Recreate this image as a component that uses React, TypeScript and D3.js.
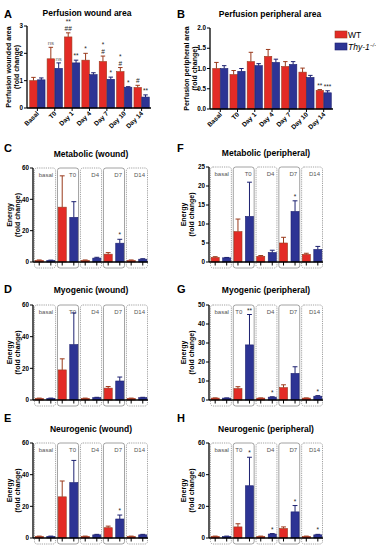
import React from 'react';
import * as d3 from 'd3';

// perfusion panels (A, B)
const periods = ['Basal', 'T0', 'Day 1', 'Day 4', 'Day 7', 'Day 10', 'Day 14'];
const woundWT = [1.0, 1.8, 2.6, 1.75, 1.7, 1.33, 0.75];
const woundWTErr = [0.12, 0.42, 0.15, 0.25, 0.2, 0.15, 0.08];
const woundThy = [1.03, 1.45, 1.65, 1.22, 1.05, 0.76, 0.4];
const woundThyErr = [0.07, 0.2, 0.1, 0.07, 0.08, 0.02, 0.08];
const woundWTMarks = [[], ['ns'], ['##', '**'], ['*'], ['#', '*'], ['#', '*'], ['#']];
const woundThyMarks = [[], ['ns'], ['**'], [], ['*'], ['*'], ['**']];

const periWT = [1.0, 0.85, 1.17, 1.3, 1.05, 0.91, 0.46];
const periWTErr = [0.15, 0.1, 0.23, 0.17, 0.12, 0.1, 0.02];
const periThy = [1.0, 0.93, 1.07, 1.15, 1.1, 0.78, 0.4];
const periThyErr = [0.07, 0.07, 0.05, 0.08, 0.07, 0.05, 0.05];
const periWTMarks = [[], [], [], [], [], [], ['**']];
const periThyMarks = [[], [], [], [], [], [], ['***']];

// energy panels (C-H)
const stages = ['basal', 'T0', 'D4', 'D7', 'D14'];
const metaWoundWT = [1, 35, 1, 5, 1];
const metaWoundWTErr = [0.3, 20, 0.3, 1, 0.3];
const metaWoundThy = [1, 28.5, 2.5, 12, 1.8];
const metaWoundThyErr = [0.2, 10, 0.5, 2.5, 0.3];
const metaWoundThyMarks = [[], [], [], ['*'], []];

const metaPeriWT = [1.2, 8, 1.5, 5, 2];
const metaPeriWTErr = [0.2, 3.3, 0.2, 1.5, 0.3];
const metaPeriThy = [1.1, 12, 2.5, 13.3, 3.3];
const metaPeriThyErr = [0.1, 9, 0.6, 2.8, 0.8];
const metaPeriThyMarks = [[], [], [], ['*'], []];

const myoWoundWT = [1, 19, 1, 7.5, 1];
const myoWoundWTErr = [0.2, 7, 0.2, 1, 0.2];
const myoWoundThy = [1, 35, 1.5, 12, 1.5];
const myoWoundThyErr = [0.2, 20, 0.2, 2.5, 0.2];
const myoWoundThyMarks = [[], [], [], [], []];

const myoPeriWT = [1, 6, 1, 6.5, 1];
const myoPeriWTErr = [0.1, 1, 0.1, 1.5, 0.1];
const myoPeriThy = [1, 29, 1.5, 14, 2];
const myoPeriThyErr = [0.1, 16, 0.2, 3.5, 0.3];
const myoPeriThyMarks = [[], ['**'], ['*'], [], ['*']];

const neuroWoundWT = [1, 26, 1, 6.5, 1];
const neuroWoundWTErr = [0.2, 10, 0.2, 1, 0.2];
const neuroWoundThy = [1, 35, 2, 12, 2];
const neuroWoundThyErr = [0.2, 14, 0.3, 2.5, 0.3];
const neuroWoundThyMarks = [[], [], [], ['*'], []];

const neuroPeriWT = [1, 7, 1, 6, 1];
const neuroPeriWTErr = [0.2, 2, 0.2, 1, 0.2];
const neuroPeriThy = [1, 33, 2.5, 16.5, 2];
const neuroPeriThyErr = [0.2, 18, 0.3, 4, 0.3];
const neuroPeriThyMarks = [[], ['*'], ['*'], ['*'], ['*']];

const noMarks = [[], [], [], [], []];

const WT_COLOR = '#e32b26';
const WT_DARK = '#9a3a1c';
const THY_COLOR = '#2d3494';
const THY_DARK = '#1c2070';
const FONT = '"Liberation Sans", Arial, sans-serif';

type PanelProps = {
    letter: string; lx: number; ly: number;
    title: string; tx: number; ty: number;
    yLines: string[]; yx: number[];
    x0: number; x1: number; yTop: number; yBottom: number;
    max: number; ticks: number[]; fmt: (v: number) => string;
    cats: string[];
    wt: number[]; wtErr: number[]; thy: number[]; thyErr: number[];
    wtMarks: string[][]; thyMarks: string[][];
    energy?: boolean;
};

function Panel(p: PanelProps) {
    const y = d3.scaleLinear().domain([0, p.max]).range([p.yBottom, p.yTop]);
    const x = d3.scaleBand().domain(p.cats).range([p.x0 + 1, p.x1])
        .paddingInner(p.energy ? 0.04 : 0.12).paddingOuter(p.energy ? 0 : 0.1);
    const sub = d3.scaleBand().domain(['wt', 'thy']).range([0, x.bandwidth()])
        .paddingInner(p.energy ? 0.3 : 0.05).paddingOuter(p.energy ? 0.1 : 0);
    const bw = sub.bandwidth();
    const series = [
        { key: 'wt', vals: p.wt, err: p.wtErr, marks: p.wtMarks, fill: WT_COLOR, dark: WT_DARK },
        { key: 'thy', vals: p.thy, err: p.thyErr, marks: p.thyMarks, fill: THY_COLOR, dark: THY_DARK },
    ];
    const cy = (p.yTop + p.yBottom) / 2;
    // a mark that reaches the box label pushes the label to the left side of its box
    const crowded = (i: number) => p.thyMarks[i].length > 0 && y(p.thy[i] + p.thyErr[i]) < p.yTop + 20;
    return (
        <g fontFamily={FONT}>
            <text x={p.lx} y={p.ly} fontSize={11} fontWeight="bold">{p.letter}</text>
            <text x={p.tx} y={p.ty} fontSize={8.5} fontWeight="bold" textAnchor="middle">{p.title}</text>
            {p.yLines.map((l, i) => (
                <text key={i} transform={`translate(${p.yx[i]},${cy}) rotate(-90)`} fontSize={7}
                    fontWeight="bold" textAnchor="middle">{l}</text>
            ))}
            {/* group boxes */}
            {p.energy && p.cats.map((c, i) => (
                <g key={c}>
                    <rect x={(x(c) as number) + 0.5} y={p.yTop} width={x.bandwidth() - 1}
                        height={p.yBottom - p.yTop + 6} rx={2.5} fill="none" stroke="#8a8a8a"
                        strokeWidth={0.8} strokeDasharray={i === 1 || i === 3 ? undefined : '1.2,1'} />
                    <text x={crowded(i) ? (x(c) as number) + 2.5 : (x(c) as number) + x.bandwidth() - 3}
                        y={p.yTop + 9} fontSize={6}
                        fill="#555" textAnchor={crowded(i) ? 'start' : 'end'}>{c}</text>
                </g>
            ))}
            {/* bars */}
            {series.map(s => p.cats.map((c, i) => {
                const bx = (x(c) as number) + (sub(s.key) as number);
                const cx = bx + bw / 2;
                const top = y(s.vals[i] + s.err[i]);
                return (
                    <g key={s.key + c}>
                        <rect x={bx} y={y(s.vals[i])} width={bw} height={p.yBottom - y(s.vals[i])}
                            fill={s.fill} stroke={s.dark} strokeWidth={0.6} />
                        <line x1={cx} x2={cx} y1={y(s.vals[i])} y2={top} stroke={s.dark} strokeWidth={1} />
                        <line x1={cx - bw * 0.3} x2={cx + bw * 0.3} y1={top} y2={top} stroke={s.dark} strokeWidth={1} />
                        {s.marks[i].map((m, j) => (
                            <text key={j} x={cx} y={top - 2 - j * 7} fontSize={m === 'ns' ? 6 : 6.5}
                                textAnchor="middle" fill={m === 'ns' ? '#666' : '#222'}>{m}</text>
                        ))}
                    </g>
                );
            }))}
            {/* y axis */}
            <line x1={p.x0} x2={p.x0} y1={p.yTop} y2={p.yBottom} stroke="#000" strokeWidth={1.3} />
            {p.ticks.map(t => (
                <g key={t}>
                    <line x1={p.x0 - 3} x2={p.x0} y1={y(t)} y2={y(t)} stroke="#000" strokeWidth={1} />
                    <text x={p.x0 - 4} y={y(t) + 2.2} fontSize={6.3} fontWeight="bold" textAnchor="end">{p.fmt(t)}</text>
                </g>
            ))}
            {/* x axis */}
            <line x1={p.x0} x2={p.x1} y1={p.yBottom} y2={p.yBottom} stroke="#000" strokeWidth={1.3} />
            {p.energy
                ? series.map(s => p.cats.map(c => {
                    const cx = (x(c) as number) + (sub(s.key) as number) + bw / 2;
                    return <line key={s.key + c} x1={cx} x2={cx} y1={p.yBottom} y2={p.yBottom + 3.5} stroke="#000" strokeWidth={1} />;
                }))
                : p.cats.map(c => {
                    const cx = (x(c) as number) + x.bandwidth() / 2;
                    return (
                        <g key={c}>
                            <line x1={cx} x2={cx} y1={p.yBottom} y2={p.yBottom + 3} stroke="#000" strokeWidth={1} />
                            <text transform={`translate(${cx + 2},${p.yBottom + 6}) rotate(-45)`} fontSize={6.5}
                                fontWeight="bold" textAnchor="end">{c}</text>
                        </g>
                    );
                })}
        </g>
    );
}

export default function App() {
    const fmtInt = (v: number) => String(v);
    const fmt1 = d3.format('.1f');
    const left = { x0: 33, x1: 148, lx: 4, tx: 91, yx: [12, 20] };
    const right = { x0: 209, x1: 323, lx: 177, tx: 266, yx: [186, 194] };
    return (
        <svg width={376} height={550} style={{ position: 'absolute', left: 0, top: 0, background: '#fff' }}>
            <Panel letter="A" lx={4} ly={18} title="Perfusion wound area" tx={87} ty={16}
                yLines={['Perfusion wounded area', '(fold change)']} yx={[11, 19]}
                x0={27} x1={151} yTop={26} yBottom={108} max={3} ticks={[0, 1, 2, 3]} fmt={fmtInt}
                cats={periods} wt={woundWT} wtErr={woundWTErr} thy={woundThy} thyErr={woundThyErr}
                wtMarks={woundWTMarks} thyMarks={woundThyMarks} />
            <Panel letter="B" lx={177} ly={18} title="Perfusion peripheral area" tx={270} ty={17}
                yLines={['Perfusion peripheral area', '(fold change)']} yx={[189, 197]}
                x0={210} x1={333} yTop={28} yBottom={109} max={2} ticks={[0, 0.5, 1, 1.5, 2]} fmt={fmt1}
                cats={periods} wt={periWT} wtErr={periWTErr} thy={periThy} thyErr={periThyErr}
                wtMarks={periWTMarks} thyMarks={periThyMarks} />

            <Panel letter="C" lx={left.lx} ly={152} title="Metabolic (wound)" tx={left.tx} ty={157}
                yLines={['Energy', '(fold change)']} yx={left.yx}
                x0={left.x0} x1={left.x1} yTop={168} yBottom={262} max={60} ticks={[0, 20, 40, 60]} fmt={fmtInt}
                cats={stages} wt={metaWoundWT} wtErr={metaWoundWTErr} thy={metaWoundThy} thyErr={metaWoundThyErr}
                wtMarks={noMarks} thyMarks={metaWoundThyMarks} energy />
            <Panel letter="F" lx={right.lx} ly={152} title="Metabolic (peripheral)" tx={right.tx} ty={156}
                yLines={['Energy', '(fold change)']} yx={right.yx}
                x0={right.x0} x1={right.x1} yTop={167} yBottom={262} max={25} ticks={[0, 5, 10, 15, 20, 25]} fmt={fmtInt}
                cats={stages} wt={metaPeriWT} wtErr={metaPeriWTErr} thy={metaPeriThy} thyErr={metaPeriThyErr}
                wtMarks={noMarks} thyMarks={metaPeriThyMarks} energy />

            <Panel letter="D" lx={left.lx} ly={293} title="Myogenic (wound)" tx={left.tx} ty={293}
                yLines={['Energy', '(fold change)']} yx={left.yx}
                x0={left.x0} x1={left.x1} yTop={305} yBottom={400} max={60} ticks={[0, 20, 40, 60]} fmt={fmtInt}
                cats={stages} wt={myoWoundWT} wtErr={myoWoundWTErr} thy={myoWoundThy} thyErr={myoWoundThyErr}
                wtMarks={noMarks} thyMarks={myoWoundThyMarks} energy />
            <Panel letter="G" lx={right.lx} ly={293} title="Myogenic (peripheral)" tx={right.tx} ty={293}
                yLines={['Energy', '(fold change)']} yx={right.yx}
                x0={right.x0} x1={right.x1} yTop={305} yBottom={400} max={50} ticks={[0, 10, 20, 30, 40, 50]} fmt={fmtInt}
                cats={stages} wt={myoPeriWT} wtErr={myoPeriWTErr} thy={myoPeriThy} thyErr={myoPeriThyErr}
                wtMarks={noMarks} thyMarks={myoPeriThyMarks} energy />

            <Panel letter="E" lx={left.lx} ly={422} title="Neurogenic (wound)" tx={left.tx} ty={432}
                yLines={['Energy', '(fold change)']} yx={left.yx}
                x0={left.x0} x1={left.x1} yTop={443} yBottom={538} max={60} ticks={[0, 20, 40, 60]} fmt={fmtInt}
                cats={stages} wt={neuroWoundWT} wtErr={neuroWoundWTErr} thy={neuroWoundThy} thyErr={neuroWoundThyErr}
                wtMarks={noMarks} thyMarks={neuroWoundThyMarks} energy />
            <Panel letter="H" lx={right.lx} ly={422} title="Neurogenic (peripheral)" tx={right.tx} ty={432}
                yLines={['Energy', '(fold change)']} yx={right.yx}
                x0={right.x0} x1={right.x1} yTop={443} yBottom={538} max={60} ticks={[0, 20, 40, 60]} fmt={fmtInt}
                cats={stages} wt={neuroPeriWT} wtErr={neuroPeriWTErr} thy={neuroPeriThy} thyErr={neuroPeriThyErr}
                wtMarks={noMarks} thyMarks={neuroPeriThyMarks} energy />

            {/* legend */}
            <g fontFamily={FONT} fontSize={8.5}>
                <rect x={335} y={31} width={12} height={7} fill={WT_COLOR} stroke={WT_DARK} strokeWidth={0.6} />
                <text x={348} y={38}>WT</text>
                <rect x={335} y={43} width={12} height={7} fill={THY_COLOR} stroke={THY_DARK} strokeWidth={0.6} />
                <text x={348} y={50} fontStyle="italic">Thy-1<tspan fontSize={5} dy={-3.5}>−/−</tspan></text>
            </g>
        </svg>
    );
}
